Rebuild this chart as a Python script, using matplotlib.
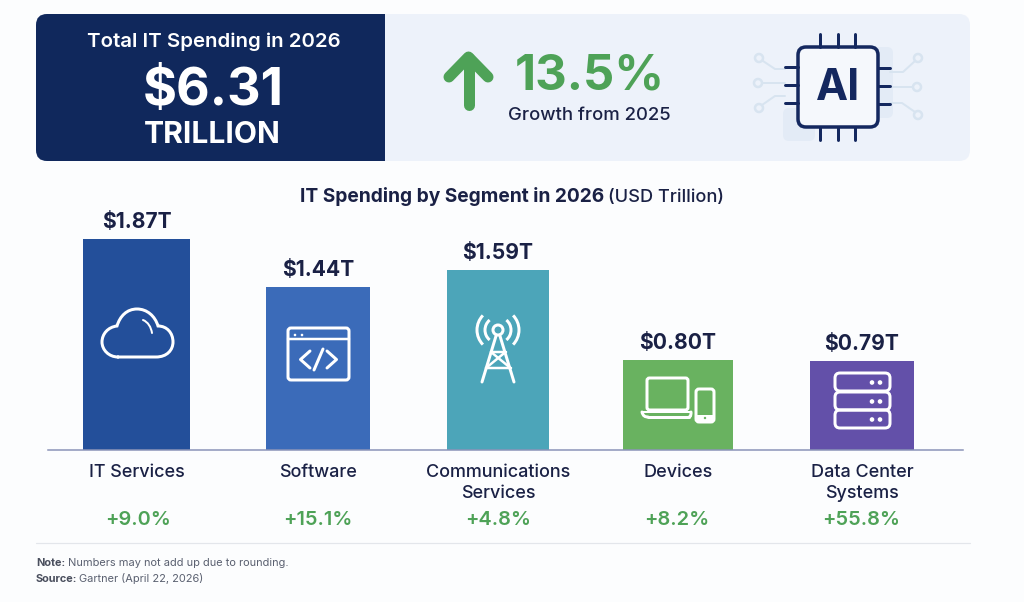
import matplotlib.pyplot as plt
from matplotlib.patches import FancyBboxPatch, Rectangle, Circle, PathPatch, Arc
from matplotlib.path import Path

plt.rcParams['font.family'] = ['Inter', 'DejaVu Sans']

segments = ['IT Services', 'Software', 'Communications\nServices', 'Devices', 'Data Center\nSystems']
spending = [1.87, 1.44, 1.59, 0.80, 0.79]
spend_labels = ['$1.87T', '$1.44T', '$1.59T', '$0.80T', '$0.79T']
growth_labels = ['+9.0%', '+15.1%', '+4.8%', '+8.2%', '+55.8%']

bar_x = [136.5, 318, 498, 678, 862]
bar_w = [107, 104, 102, 110, 104]
bar_colors = ['#234F9A', '#3B6BB9', '#4CA5B9', '#69B260', '#6350A9']

BG = '#FCFDFE'
NAVY = '#10285C'
PALE = '#EDF2FA'
GREEN = '#4EA257'
INK = '#1A2145'
TRACE = '#D8E4F0'
PX = 0.72  # one pixel in points at dpi 100

fig = plt.figure(figsize=(10.24, 6.02), dpi=100, facecolor=BG)

# bars, base at y=450 px
ax = fig.add_axes([0, (602 - 450) / 602, 1, 226 / 602])
ax.patch.set_alpha(0)
ax.bar(bar_x, spending, width=bar_w, color=bar_colors, zorder=2)
ax.set_xlim(0, 1024)
ax.set_ylim(0, 2)
ax.set_yticks([])
ax.set_xticks(bar_x)
ax.set_xticklabels(segments, fontsize=18 * PX, fontweight='medium', color=INK, linespacing=1.27)
ax.tick_params(axis='x', length=0, pad=10.2)
for s in ['top', 'left', 'right']:
    ax.spines[s].set_visible(False)
ax.spines['bottom'].set_bounds(48, 963)
ax.spines['bottom'].set_color('#8B94B8')
ax.spines['bottom'].set_linewidth(1.1)
for x, v, lab in zip(bar_x, spending, spend_labels):
    ax.annotate(lab, (x, v), xytext=(0, 17 * PX), textcoords='offset points', ha='center', va='center',
                fontsize=21 * PX, fontweight='bold', color=INK)

# everything else is laid out in pixels
deco = fig.add_axes([0, 0, 1, 1], zorder=3)
deco.set_xlim(0, 1024)
deco.set_ylim(602, 0)
deco.axis('off')


def stroke(xs, ys, color='white', lw=3, **kw):
    deco.plot(xs, ys, color=color, lw=lw * PX, solid_capstyle='round', solid_joinstyle='round', **kw)


def rbox(x0, y0, x1, y1, r, fc='none', ec='white', lw=3, **kw):
    p = FancyBboxPatch((x0 + r, y0 + r), x1 - x0 - 2 * r, y1 - y0 - 2 * r,
                       boxstyle='round,pad=%f,rounding_size=%f' % (r, r),
                       fc=fc, ec=ec, lw=lw * PX, mutation_aspect=1, **kw)
    deco.add_patch(p)
    return p


def curve(verts, ec='white', lw=3):
    codes = [Path.MOVETO] + [Path.CURVE4] * (len(verts) - 1)
    deco.add_patch(PathPatch(Path(verts, codes), fc='none', ec=ec, lw=lw * PX, capstyle='round'))


# top banner
rbox(36, 14, 970, 161, 11, fc=PALE, ec='none', lw=0)
rbox(36, 14, 385, 161, 11, fc=NAVY, ec='none', lw=0)
deco.add_patch(Rectangle((370, 14), 15, 147, fc=NAVY, ec='none'))

deco.text(213.5, 42, 'Total IT Spending in 2026', ha='center', va='center', color='white',
          fontsize=20.4 * PX, fontweight='semibold')
deco.text(213, 91, '$6.31', ha='center', va='center', color='white', fontsize=52 * PX, fontweight='bold')
deco.text(212, 135, 'TRILLION', ha='center', va='center', color='white', fontsize=30 * PX, fontweight='bold')

# growth arrow
stroke([468.5, 468.5], [58, 105], color=GREEN, lw=11)
stroke([449, 468.5, 488], [77, 57, 77], color=GREEN, lw=11)
deco.text(589.5, 77, '13.5%', ha='center', va='center', color=GREEN, fontsize=49 * PX, fontweight='bold')
deco.text(589, 116, 'Growth from 2025', ha='center', va='center', color=INK, fontsize=18.5 * PX, fontweight='medium')

# chip with faint traces behind it
rbox(860, 47, 893, 118, 6, fc='#E3EBF6', ec='none', lw=0)
rbox(783, 108, 815, 141, 6, fc='#E3EBF6', ec='none', lw=0)
for cx, cy in [(759, 58), (758, 83), (759, 108), (918, 58), (917, 87), (918, 115)]:
    deco.add_patch(Circle((cx, cy), 4, fc='none', ec=TRACE, lw=2.5 * PX))
stroke([763, 775, 785], [61, 69, 69], color=TRACE, lw=2)
stroke([762, 785], [83, 83], color=TRACE, lw=2)
stroke([762, 775, 785], [105, 96, 96], color=TRACE, lw=2)
stroke([915, 903, 890], [61, 72, 72], color=TRACE, lw=2)
stroke([913, 890], [87, 87], color=TRACE, lw=2)
stroke([915, 902, 890], [112, 103, 103], color=TRACE, lw=2)
NPIN = '#14285F'
for x in [820, 837.5, 855]:
    stroke([x, x], [34, 47], color=NPIN, lw=3)
    stroke([x, x], [127, 140], color=NPIN, lw=3)
for yl, yr in [(67, 68), (85, 86), (103, 104)]:
    stroke([785, 798], [yl, yl], color=NPIN, lw=3)
    stroke([878, 890], [yr, yr], color=NPIN, lw=3)
rbox(798, 47, 878, 127, 8, fc='#F5F8FC', ec=NPIN, lw=3.5)
deco.text(838, 88, 'AI', ha='center', va='center', color=NPIN, fontsize=43 * PX, fontweight='bold')

# section title
deco.text(300, 197, 'IT Spending by Segment in 2026', ha='left', va='center', color=INK, fontsize=19.2 * PX, fontweight='bold')
deco.text(608, 197, '(USD Trillion)', ha='left', va='center', color=INK, fontsize=18.2 * PX, fontweight='medium')

# cloud
curve([(118, 357), (130, 357), (143, 357), (156, 357),
       (167, 357), (173, 350), (173, 342),
       (173, 333), (167, 326), (158, 326),
       (155, 316), (147, 309), (137, 309),
       (127, 309), (120, 316), (117, 326),
       (108, 327), (102, 334), (102, 342),
       (102, 350), (109, 357), (118, 357)])
curve([(143, 320), (148, 322), (151, 327), (152, 333)], lw=2)

# code window
rbox(288, 328, 349, 380, 3)
stroke([288, 349], [339, 339], lw=2.5)
for x in [295, 302]:
    deco.add_patch(Circle((x, 335), 1.3, fc='white', ec='none'))
stroke([310, 300.5, 310], [351, 359.5, 368], lw=3)
stroke([314, 323], [370, 349], lw=3)
stroke([327, 336.5, 327], [351, 359.5, 368], lw=3)

# radio tower
deco.add_patch(Circle((498, 330), 5, fc='none', ec='white', lw=3 * PX))
for r, span in [(13, 50), (21, 44)]:
    deco.add_patch(Arc((498, 330), 2 * r, 2 * r, theta1=-span, theta2=span, ec='white', lw=3 * PX))
    deco.add_patch(Arc((498, 330), 2 * r, 2 * r, theta1=180 - span, theta2=180 + span, ec='white', lw=3 * PX))
stroke([482, 496], [382, 336], lw=3)
stroke([514, 500], [382, 336], lw=3)
stroke([491, 505.5], [352, 352], lw=2.5)
stroke([491, 510.5], [352, 368], lw=2.5)
stroke([505.5, 486], [352, 368], lw=2.5)
stroke([486, 510.5], [368, 368], lw=2.5)

# laptop and phone
rbox(647, 378, 688, 410, 2.5)
curve([(642, 412), (643, 416), (645, 417), (648, 417)], lw=3)
stroke([648, 689], [417, 417], lw=3)
curve([(689, 417), (691, 417), (691, 414), (691, 412)], lw=3)
stroke([642, 691], [412, 412], lw=2)
rbox(696, 389, 714, 422, 3)
deco.add_patch(Rectangle((697, 415), 16, 6, fc='white', ec='none'))
deco.add_patch(Circle((705, 418), 1.2, fc=bar_colors[3], ec='none'))

# server rack
for y0 in [373, 392, 410]:
    rbox(835, y0, 890, y0 + 18, 5)
    for x in [872, 880]:
        deco.add_patch(Circle((x, y0 + 9.5), 2.3, fc='white', ec='none'))

# growth per segment
for x, lab in zip([138, 318, 498, 677, 861], growth_labels):
    deco.text(x, 520, lab, ha='center', va='center', color=GREEN, fontsize=20 * PX, fontweight='semibold')

# footer
stroke([36, 970], [543, 543], color='#E3E6EB', lw=1.2)
NOTE = '#5A6070'
deco.text(36, 563.5, 'Note:', ha='left', va='center', color='#4A4F5E', fontsize=11 * PX, fontweight='bold')
deco.text(68, 563.5, 'Numbers may not add up due to rounding.', ha='left', va='center', color=NOTE, fontsize=11 * PX)
deco.text(36, 578.5, 'Source:', ha='left', va='center', color='#4A4F5E', fontsize=11 * PX, fontweight='bold')
deco.text(79, 578.5, 'Gartner (April 22, 2026)', ha='left', va='center', color=NOTE, fontsize=11 * PX)

fig.savefig('out.png', dpi=100, facecolor=BG)
